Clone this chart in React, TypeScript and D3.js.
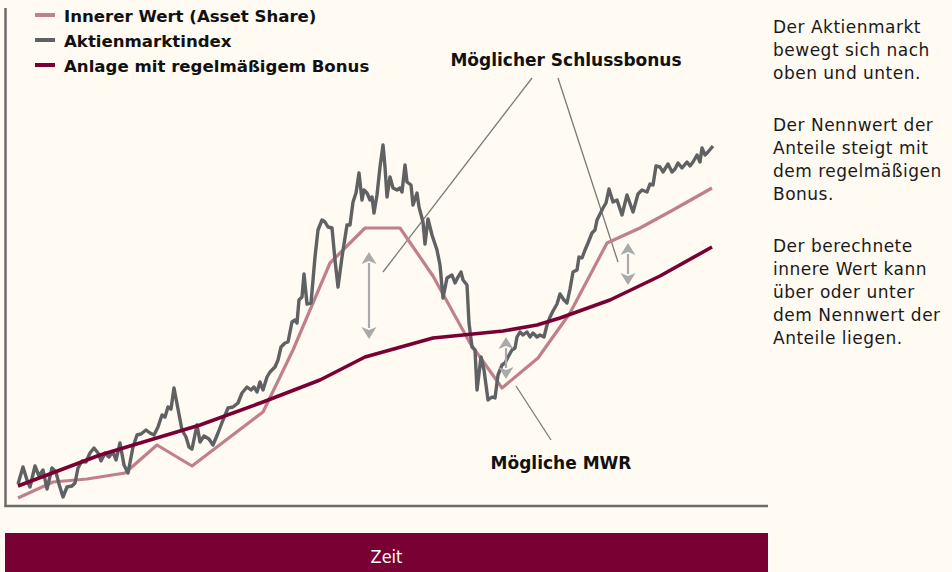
import React from "react";
import * as d3 from "d3";

// ---- Data (time position, value above baseline) ----
const indexT = [18,23,27,30,35,39,43,47,52,56,59,63,67,72,75,78,82,86,90,94,98,101,105,109,113,116,120,124,128,133,137,141,146,150,154,158,162,165,168,171,174,178,182,186,189,192,197,200,204,209,213,218,223,228,233,238,242,247,251,254,257,260,263,267,270,275,278,281,285,288,292,295,297,299,302,304,307,311,315,318,322,325,328,332,335,338,342,347,350,353,356,359,362,364,367,370,372,374,377,380,383,385,387,390,393,397,400,402,405,407,411,413,417,419,423,425,428,432,437,440,443,447,452,455,458,461,463,467,469,472,475,477,481,484,488,492,495,498,502,505,508,512,515,517,520,523,527,530,533,537,540,544,547,550,553,557,560,564,567,570,573,577,579,582,585,588,592,595,597,600,603,606,609,613,617,622,627,633,638,642,647,650,653,656,660,663,668,672,675,678,682,687,690,693,697,700,702,705,708,713];
const indexV = [22,39,26,19,40,30,36,17,38,34,22,9,19,20,23,38,45,44,53,58,53,45,53,49,54,46,63,41,33,59,71,72,76,73,71,79,91,89,99,97,118,97,76,69,59,57,81,64,70,67,61,73,86,98,99,103,113,119,116,119,114,124,116,129,134,139,146,159,163,164,184,186,183,206,209,232,202,203,249,276,286,284,279,278,246,219,249,281,281,304,313,333,306,316,313,306,309,293,311,339,361,339,309,329,318,316,318,314,341,324,321,301,313,299,284,262,287,271,256,241,208,228,231,223,229,234,226,221,183,159,156,116,149,136,106,109,108,131,141,143,149,156,158,169,174,171,174,169,173,169,171,169,181,189,195,202,212,206,203,217,234,236,249,248,256,263,273,276,286,292,298,303,317,304,306,291,311,294,312,316,314,322,321,340,339,334,342,334,337,343,338,344,340,344,351,344,358,351,354,360];

const assetT = [18,53,87,125,157,192,263,293,330,365,400,433,470,502,538,570,607,640,673,712];
const assetV = [8,24,27,33,61,40,94,156,243,278,278,230,163,118,148,193,263,278,296,318];

const bonusT = [18,100,200,263,320,365,433,503,537,560,610,660,712];
const bonusV = [20,51,81,104,126,149,168,175,181,188,206,230,259];

const legendLabels = ["Innerer Wert (Asset Share)", "Aktienmarktindex", "Anlage mit regelmäßigem Bonus"];
const sideParagraphs = [
  ["Der Aktienmarkt", "bewegt sich nach", "oben und unten."],
  ["Der Nennwert der", "Anteile steigt mit", "dem regelmäßigen", "Bonus."],
  ["Der berechnete", "innere Wert kann", "über oder unter", "dem Nennwert der", "Anteile liegen."],
];
const annotationTop = "Möglicher Schlussbonus";
const annotationBottom = "Mögliche MWR";
const axisLabel = "Zeit";

// arrows: [t, vTop, vBottom]
const gapArrows = [[369, 254, 167], [506, 169, 127], [628, 263, 221]];
// leader lines: [t1, v1, t2, v2]
const leaders = [[383, 234, 532, 428], [618, 244, 558, 428], [516, 120, 551, 66]];

const COLORS = {
  bg: "#fffaf2",
  asset: "#c0808b",
  index: "#5f6163",
  bonus: "#780032",
  axis: "#6b6b6b",
  arrow: "#a9aaac",
  leader: "#7a7a7a",
};

export default function App() {
  const W = 952, H = 572;
  const x = d3.scaleLinear().domain([0, 952]).range([0, 952]);
  const y = d3.scaleLinear().domain([0, 506]).range([506, 0]);
  const line = d3.line<[number, number]>().x(d => x(d[0])).y(d => y(d[1]));
  const zip = (t: number[], v: number[]) => t.map((d, i) => [d, v[i]] as [number, number]);

  const bold = { fontFamily: "'DejaVu Sans', sans-serif", fontWeight: 700, fontSize: 16.6 } as const;
  const boldAnn = { ...bold, fontSize: 17 } as const;

  return (
    <div style={{ position: "absolute", left: 0, top: 0 }}>
      <svg width={W} height={H} style={{ display: "block" }}>
        <rect x={0} y={0} width={W} height={H} fill={COLORS.bg} />
        {/* frame */}
        <line x1={5.5} y1={8} x2={5.5} y2={507} stroke={COLORS.axis} strokeWidth={2.5} />
        <line x1={4.5} y1={506} x2={768} y2={506} stroke={COLORS.axis} strokeWidth={2.5} />

        {/* leader lines */}
        {leaders.map((l, i) => (
          <line key={i} x1={x(l[0])} y1={y(l[1])} x2={x(l[2])} y2={y(l[3])} stroke={COLORS.leader} strokeWidth={1.3} />
        ))}

        {/* series */}
        <path d={line(zip(assetT, assetV)) || ""} fill="none" stroke={COLORS.asset} strokeWidth={3.2} strokeLinejoin="round" />
        <path d={line(zip(indexT, indexV)) || ""} fill="none" stroke={COLORS.index} strokeWidth={3.4} strokeLinejoin="round" />
        <path d={line(zip(bonusT, bonusV)) || ""} fill="none" stroke={COLORS.bonus} strokeWidth={3.6} strokeLinejoin="round" />

        {/* gap arrows */}
        {gapArrows.map((a, i) => {
          const cx = x(a[0]), yt = y(a[1]), yb = y(a[2]);
          const hl = 12, hw = 7.5;
          return (
            <g key={i} fill={COLORS.arrow} stroke="none">
              <line x1={cx} y1={yt + hl - 1} x2={cx} y2={yb - hl + 1} stroke={COLORS.arrow} strokeWidth={2.2} />
              <path d={`M${cx},${yt} L${cx + hw},${yt + hl} L${cx},${yt + hl - 3} L${cx - hw},${yt + hl} Z`} />
              <path d={`M${cx},${yb} L${cx + hw},${yb - hl} L${cx},${yb - hl + 3} L${cx - hw},${yb - hl} Z`} />
            </g>
          );
        })}

        {/* annotations */}
        <text x={566} y={66} textAnchor="middle" style={boldAnn} fill="#111">{annotationTop}</text>
        <text x={561} y={469} textAnchor="middle" style={boldAnn} fill="#111">{annotationBottom}</text>

        {/* legend */}
        {legendLabels.map((lab, i) => (
          <g key={lab}>
            <line x1={35} x2={55} y1={15 + i * 25} y2={15 + i * 25}
              stroke={[COLORS.asset, COLORS.index, COLORS.bonus][i]} strokeWidth={4} />
            <text x={64} y={22 + i * 25} style={bold} fill="#111">{lab}</text>
          </g>
        ))}

        {/* side text */}
        {(() => {
          const out: JSX.Element[] = [];
          let yy = 33;
          sideParagraphs.forEach((p, pi) => {
            p.forEach((ln, li) => {
              out.push(
                <text key={`${pi}-${li}`} x={773} y={yy} fill="#1a1a1a"
                  style={{ fontFamily: "'DejaVu Sans', sans-serif", fontSize: 17, letterSpacing: 0.5 }}>{ln}</text>
              );
              yy += 23;
            });
            yy += 29;
          });
          return out;
        })()}

        {/* time bar */}
        <rect x={5} y={533} width={763} height={39} fill={COLORS.bonus} />
        <text x={386.5} y={563} textAnchor="middle" fill="#fff"
          style={{ fontFamily: "'DejaVu Sans Condensed', 'DejaVu Sans', sans-serif", fontSize: 18 }}>{axisLabel}</text>
      </svg>
    </div>
  );
}
